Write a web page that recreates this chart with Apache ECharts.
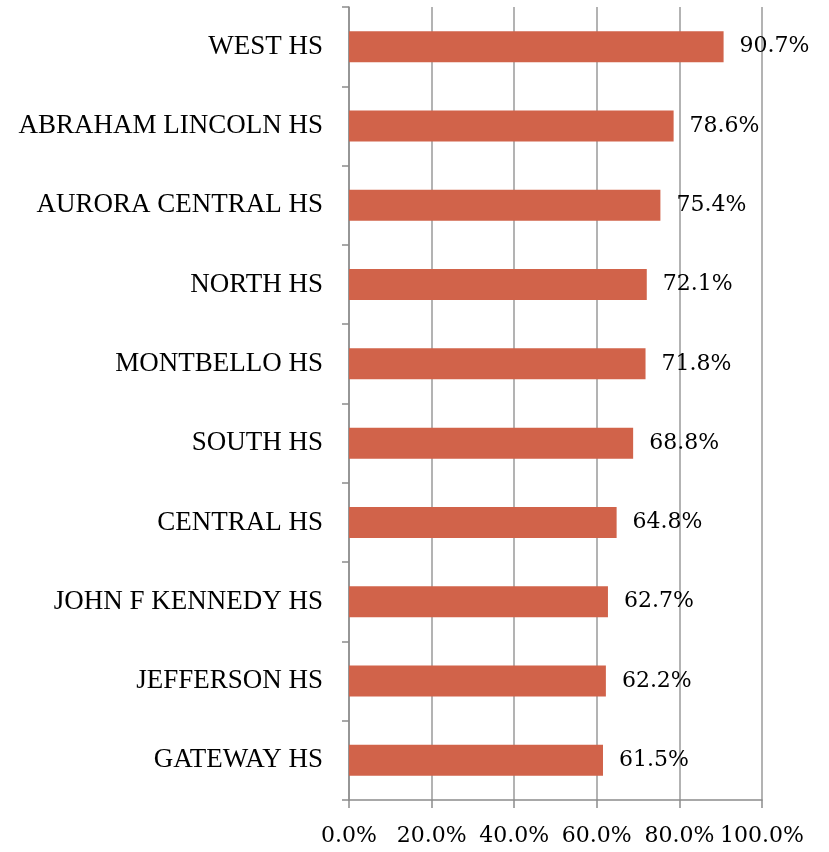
<!DOCTYPE html>
<html><head><meta charset="utf-8">
<script src="https://cdn.jsdelivr.net/npm/echarts@6/dist/echarts.min.js"></script>
<style>html,body{margin:0;padding:0;background:#fff}#c{width:829px;height:852px}</style>
</head><body><div id="c"></div>
<script>
const schools = ["WEST HS","ABRAHAM LINCOLN HS","AURORA CENTRAL HS","NORTH HS","MONTBELLO HS","SOUTH HS","CENTRAL HS","JOHN F KENNEDY HS","JEFFERSON HS","GATEWAY HS"];
const rates = [90.7,78.6,75.4,72.1,71.8,68.8,64.8,62.7,62.2,61.5];
const xTicks = [0,20,40,60,80,100];

const chart = echarts.init(document.getElementById('c'));
chart.setOption({
  animation:false,
  grid:{left:349,right:67,top:7,bottom:52,containLabel:false},
  xAxis:{type:'value',min:xTicks[0],max:xTicks[xTicks.length-1],interval:20,
    axisLine:{show:true,lineStyle:{color:'#8c8c8c',width:1.5}},
    axisTick:{show:true,length:8,lineStyle:{color:'#8c8c8c',width:1.5}},
    splitLine:{show:true,lineStyle:{color:'#9a9a9a',width:1.5}},
    axisLabel:{margin:25,color:'#000',fontFamily:'DejaVu Serif',fontSize:22,formatter:v=>v.toFixed(1)+'%'}},
  yAxis:{type:'category',data:schools,inverse:true,
    axisLine:{show:true,lineStyle:{color:'#8c8c8c',width:1.5}},
    axisTick:{show:true,length:7,lineStyle:{color:'#8c8c8c',width:1.5}},
    axisLabel:{margin:26,color:'#000',fontFamily:'Liberation Serif',fontSize:27}},
  series:[{type:'bar',data:rates,barWidth:31,
    itemStyle:{color:'#D1634A'},
    label:{show:true,position:'right',distance:16,color:'#000',fontFamily:'DejaVu Serif',fontSize:22,formatter:p=>p.value.toFixed(1)+'%'}}]
});
</script></body></html>
